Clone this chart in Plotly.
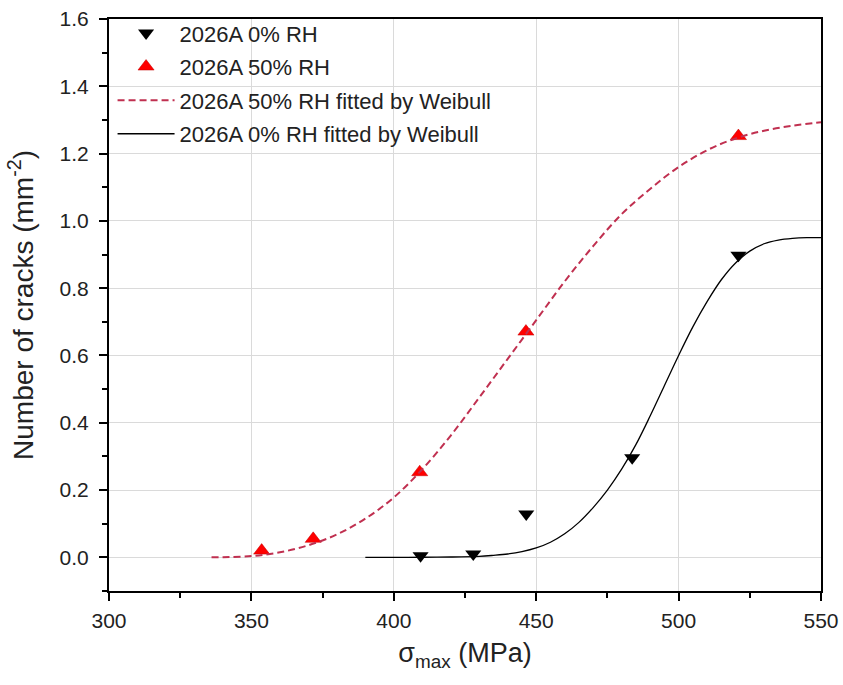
import plotly.graph_objects as go

# Measured points
rh0_x = [409.4, 427.9, 446.5, 483.7, 521.0]
rh0_y = [0.005, 0.010, 0.129, 0.296, 0.898]
rh50_x = [353.6, 371.7, 409.1, 446.4, 521.0]
rh50_y = [0.020, 0.055, 0.253, 0.671, 1.252]

# Weibull fitted curves
fit50_x = [336, 340, 350, 360, 370, 380, 390, 400, 410, 420, 430, 440, 450, 460,
           470, 480, 490, 500, 510, 520, 530, 540, 550]
fit50_y = [0.0, 0.0005, 0.004, 0.015, 0.036, 0.068, 0.115, 0.178, 0.262, 0.362,
           0.475, 0.59, 0.705, 0.82, 0.925, 1.02, 1.095, 1.16, 1.21, 1.245,
           1.268, 1.283, 1.293]
fit0_x = [390, 400, 410, 420, 430, 435, 440, 445, 450, 455, 460, 465, 470, 475, 480,
          485, 490, 495, 500, 505, 510, 515, 520, 525, 530, 535, 540, 545, 550]
fit0_y = [0.0, 0.0, 0.0003, 0.001, 0.003, 0.006, 0.010, 0.017, 0.028, 0.045, 0.07,
          0.104, 0.148, 0.20, 0.262, 0.335, 0.42, 0.51, 0.60, 0.685, 0.76,
          0.825, 0.875, 0.91, 0.932, 0.943, 0.948, 0.95, 0.95]

x_ticks = [300, 350, 400, 450, 500, 550]
y_ticks = [0.0, 0.2, 0.4, 0.6, 0.8, 1.0, 1.2, 1.4, 1.6]

FONT = "Arial, Liberation Sans, sans-serif"

fig = go.Figure()
fig.add_trace(go.Scatter(
    x=rh0_x, y=rh0_y, mode="markers", name="2026A 0% RH", legendgroup="a",
    marker=dict(symbol="triangle-down", size=14, color="black")))
fig.add_trace(go.Scatter(
    x=rh50_x, y=rh50_y, mode="markers", name="2026A 50% RH", legendgroup="b",
    marker=dict(symbol="triangle-up", size=14, color="#ff0000",
                line=dict(color="#c00000", width=0.5))))
fig.add_trace(go.Scatter(
    x=fit50_x, y=fit50_y, mode="lines", name="2026A 50% RH fitted by Weibull",
    legendgroup="c",
    line=dict(color="#c03050", width=2, dash="7px,4px", shape="spline", smoothing=1)))
fig.add_trace(go.Scatter(
    x=fit0_x, y=fit0_y, mode="lines", name="2026A 0% RH fitted by Weibull",
    legendgroup="d",
    line=dict(color="black", width=1.3, shape="spline", smoothing=1)))

axis_common = dict(
    showline=True, linecolor="black", linewidth=2, mirror=True,
    ticks="outside", ticklen=8, tickwidth=2, tickcolor="black",
    showgrid=True, gridcolor="#dadada", gridwidth=1, zeroline=False,
    tickfont=dict(family=FONT, size=21, color="#222222"),
    automargin=False,
)

fig.update_xaxes(
    range=[300, 550], tickvals=x_ticks, ticktext=[str(v) for v in x_ticks],
    minor=dict(ticks="outside", ticklen=5, tickwidth=2, tickcolor="black", dtick=25,
               tick0=300, showgrid=False),
    ticklabelstandoff=2,
    title=dict(text="σ<sub>max</sub> (MPa)", font=dict(family=FONT, size=27, color="#222222"),
               standoff=12),
    **axis_common)
fig.update_yaxes(
    range=[-0.1, 1.6], tickvals=y_ticks, ticktext=[f"{v:.1f}" for v in y_ticks],
    minor=dict(ticks="outside", ticklen=5, tickwidth=2, tickcolor="black", dtick=0.1,
               tick0=0, showgrid=False),
    ticklabelstandoff=6,
    title=dict(text="Number of cracks (mm<sup>-2</sup>)",
               font=dict(family=FONT, size=28, color="#222222"), standoff=18),
    **axis_common)

fig.update_layout(
    width=843, height=685,
    margin=dict(l=109, r=22, t=16, b=94),
    paper_bgcolor="white", plot_bgcolor="white",
    showlegend=True,
    legend=dict(x=0.005, y=1.012, xanchor="left", yanchor="top",
                bgcolor="rgba(0,0,0,0)", borderwidth=0,
                font=dict(family=FONT, size=22, color="#222222"),
                itemwidth=57, tracegroupgap=2, traceorder="grouped"),
)

fig.write_html("out.html")
